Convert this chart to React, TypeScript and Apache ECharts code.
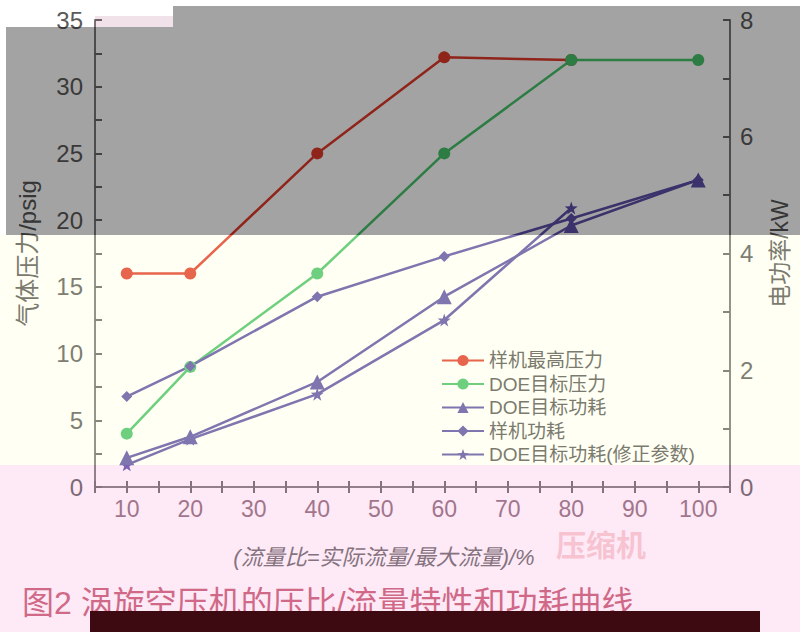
import React, { useEffect, useRef } from "react";
import * as echarts from "echarts";

const flow = [10, 20, 40, 60, 80, 100];
const protoMaxPressure = [16, 16, 25, 32.2, 32];
const doeTargetPressure = [4, 9, 16, 25, 32, 32];
const doeTargetPower = [0.5, 0.86, 1.8, 3.26, 4.48, 5.26];
const protoPower = [1.55, 2.07, 3.26, 3.95, 4.6, 5.26];
const doePowerCorrected = [0.38, 0.82, 1.59, 2.86, 4.78];

const seriesNames = ["样机最高压力", "DOE目标压力", "DOE目标功耗", "样机功耗", "DOE目标功耗(修正参数)"];
const leftAxisName = "气体压力/psig";
const rightAxisName = "电功率/kW";
const xAxisName = "(流量比=实际流量/最大流量)/%";
const caption = "图2 涡旋空压机的压比/流量特性和功耗曲线";

const FONT = "'Liberation Sans', 'Noto Sans CJK SC', sans-serif";
const STAR =
  "path://M0,-10 L2.35,-3.24 L9.51,-3.09 L3.8,1.24 L5.88,8.09 L0,4 L-5.88,8.09 L-3.8,1.24 L-9.51,-3.09 L-2.35,-3.24 Z";

const pairs = (vals: number[]) => vals.map((v, i) => [flow[i], v]);

export default function App() {
  const ref = useRef<HTMLDivElement>(null);
  useEffect(() => {
    if (!ref.current) return;
    const chart = echarts.init(ref.current, null, { renderer: "svg" });
    const axisLineStyle = { color: "#777", width: 2 };
    const xAxisBase = {
      type: "value" as const,
      min: 5,
      max: 105,
      interval: 5,
      axisLine: { show: true, lineStyle: axisLineStyle },
      axisTick: { show: true, inside: true, length: 6, lineStyle: { color: "#666", width: 2 } },
      splitLine: { show: false },
    };
    const red = "#e03a2a";
    const green = "#46c26a";
    const purple = "#5b50a8";
    chart.setOption({
      animation: false,
      backgroundColor: "#ffffff",
      textStyle: { fontFamily: FONT },
      grid: { left: 95, right: 70, top: 20, bottom: 145 },
      legend: {
        orient: "vertical",
        left: 436,
        top: 346,
        itemWidth: 42,
        itemHeight: 14,
        itemGap: 4.5,
        textStyle: { fontSize: 19, color: "#555", fontFamily: FONT },
        data: seriesNames,
      },
      xAxis: [
        {
          ...xAxisBase,
          position: "bottom",
          axisLabel: {
            fontSize: 23,
            color: "#8a6a78",
            margin: 10,
            formatter: (v: number) => (v % 10 === 0 ? String(v) : ""),
          },
        },
        {
          ...xAxisBase,
          position: "top",
          axisLabel: { show: false },
        },
      ],
      yAxis: [
        {
          type: "value",
          min: 0,
          max: 35,
          interval: 2.5,
          position: "left",
          name: leftAxisName,
          nameLocation: "middle",
          nameRotate: 90,
          nameGap: 56,
          nameTextStyle: { fontSize: 24, color: "#555", fontFamily: FONT },
          axisLine: { show: true, lineStyle: axisLineStyle },
          axisTick: { show: true, inside: true, length: 7, lineStyle: { color: "#666", width: 2 } },
          axisLabel: {
            fontSize: 24,
            color: "#5a5a5a",
            margin: 12,
            formatter: (v: number) => (v % 5 === 0 ? String(v) : ""),
          },
          splitLine: { show: false },
        },
        {
          type: "value",
          min: 0,
          max: 8,
          interval: 1,
          position: "right",
          name: rightAxisName,
          nameLocation: "middle",
          nameRotate: 90,
          nameGap: 38,
          nameTextStyle: { fontSize: 23, color: "#555", fontFamily: FONT },
          axisLine: { show: true, lineStyle: axisLineStyle },
          axisTick: { show: true, inside: true, length: 7, lineStyle: { color: "#666", width: 2 } },
          axisLabel: {
            fontSize: 24,
            color: "#5a5a5a",
            margin: 10,
            formatter: (v: number) => (v % 2 === 0 ? String(v) : ""),
          },
          splitLine: { show: false },
        },
      ],
      series: [
        {
          name: seriesNames[0],
          type: "line",
          yAxisIndex: 0,
          data: pairs(protoMaxPressure),
          symbol: "circle",
          symbolSize: 12,
          itemStyle: { color: red },
          lineStyle: { color: red, width: 2.5 },
        },
        {
          name: seriesNames[1],
          type: "line",
          yAxisIndex: 0,
          data: pairs(doeTargetPressure),
          symbol: "circle",
          symbolSize: 12,
          itemStyle: { color: green },
          lineStyle: { color: green, width: 2.5 },
        },
        {
          name: seriesNames[2],
          type: "line",
          yAxisIndex: 1,
          data: pairs(doeTargetPower),
          symbol: "triangle",
          symbolSize: 15,
          itemStyle: { color: purple },
          lineStyle: { color: purple, width: 2.5 },
        },
        {
          name: seriesNames[3],
          type: "line",
          yAxisIndex: 1,
          data: pairs(protoPower),
          symbol: "diamond",
          symbolSize: 11,
          itemStyle: { color: purple },
          lineStyle: { color: purple, width: 2.5 },
        },
        {
          name: seriesNames[4],
          type: "line",
          yAxisIndex: 1,
          data: pairs(doePowerCorrected),
          symbol: STAR,
          symbolSize: 13,
          itemStyle: { color: purple },
          lineStyle: { color: purple, width: 2.5 },
        },
      ],
      graphic: [
        {
          type: "text",
          x: 384,
          y: 557,
          z: 50,
          style: {
            text: xAxisName,
            fontSize: 22,
            fontStyle: "italic",
            fill: "#666",
            fontFamily: FONT,
            align: "center",
            verticalAlign: "middle",
          },
        },
        {
          type: "text",
          x: 556,
          y: 545,
          z: 50,
          style: {
            text: "压缩机",
            fontSize: 30,
            fontWeight: "bold",
            fill: "rgba(235,110,120,0.35)",
            fontFamily: FONT,
            verticalAlign: "middle",
          },
        },
        {
          type: "text",
          x: 22,
          y: 603,
          z: 50,
          style: {
            text: caption,
            fontSize: 32,
            fill: "#c65a72",
            fontFamily: FONT,
            verticalAlign: "middle",
          },
        },
        {
          type: "rect",
          z: 90,
          shape: { x: 0, y: 235, width: 800, height: 230 },
          style: { fill: "rgba(255,255,200,0.22)" },
          silent: true,
        },
        {
          type: "rect",
          z: 90,
          shape: { x: 6, y: 27, width: 794, height: 208 },
          style: { fill: "rgba(0,0,0,0.36)" },
          silent: true,
        },
        {
          type: "rect",
          z: 90,
          shape: { x: 173, y: 6, width: 627, height: 21 },
          style: { fill: "rgba(0,0,0,0.36)" },
          silent: true,
        },
        {
          type: "rect",
          z: 90,
          shape: { x: 95, y: 16, width: 78, height: 11 },
          style: { fill: "rgba(160,60,110,0.15)" },
          silent: true,
        },
        {
          type: "rect",
          z: 90,
          shape: { x: 0, y: 465, width: 800, height: 167 },
          style: { fill: "rgba(245,160,215,0.22)" },
          silent: true,
        },
        {
          type: "rect",
          z: 91,
          shape: { x: 90, y: 611, width: 670, height: 21 },
          style: { fill: "#3e0a12" },
          silent: true,
        },
      ],
    });
    return () => chart.dispose();
  }, []);
  return (
    <div
      ref={ref}
      style={{ position: "fixed", left: 0, top: 0, width: 800, height: 632 }}
    />
  );
}
